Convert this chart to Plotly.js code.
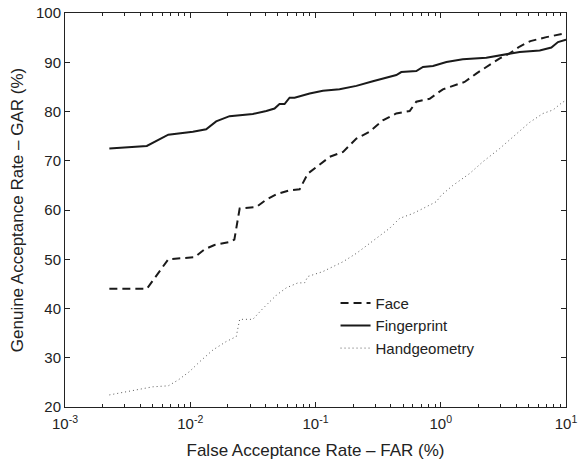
<!DOCTYPE html>
<html>
<head>
<meta charset="utf-8">
<script src="https://cdn.plot.ly/plotly-3.0.1.min.js"></script>
<style>html,body{margin:0;padding:0;background:#fff;}#chart{width:585px;height:462px;}</style>
</head>
<body>
<div id="chart"></div>
<script>
const faceX = [0.00226, 0.0045, 0.00668, 0.0108, 0.0130, 0.0156, 0.0206, 0.0225, 0.0248, 0.0337, 0.0405, 0.0487, 0.0621, 0.0747, 0.0869, 0.130, 0.166, 0.212, 0.270, 0.345, 0.441, 0.565, 0.638, 0.815, 1.04, 1.55, 1.92, 2.46, 2.96, 3.55, 4.27, 5.2, 6.97, 10];
const faceY = [44.0, 44.0, 50.0, 50.4, 52.0, 52.9, 53.5, 54.0, 60.3, 60.6, 62.1, 63.2, 64.0, 64.2, 67.4, 70.8, 71.8, 74.5, 75.9, 78.2, 79.6, 80.1, 82.0, 82.6, 84.5, 86.0, 87.7, 89.4, 90.8, 91.8, 93.2, 94.3, 95.1, 95.9];

const fingerX = [0.00226, 0.0045, 0.00668, 0.0105, 0.0134, 0.0161, 0.0206, 0.0248, 0.0316, 0.0405, 0.0471, 0.0516, 0.0566, 0.0621, 0.0681, 0.0898, 0.1146, 0.1556, 0.212, 0.287, 0.391, 0.442, 0.484, 0.638, 0.721, 0.867, 1.11, 1.50, 2.31, 3.34, 4.27, 6.17, 7.64, 8.63, 10];
const fingerY = [72.5, 73.0, 75.3, 75.9, 76.4, 78.0, 79.05, 79.25, 79.5, 80.1, 80.6, 81.5, 81.5, 82.8, 82.8, 83.65, 84.2, 84.5, 85.2, 86.15, 87.0, 87.4, 88.0, 88.2, 89.05, 89.25, 90.05, 90.6, 90.9, 91.6, 92.1, 92.4, 93.0, 94.1, 94.6];

const handX = [0.00226, 0.00394, 0.00502, 0.00668, 0.00803, 0.00987, 0.0119, 0.0152, 0.0194, 0.0233, 0.0248, 0.0316, 0.0380, 0.0487, 0.0585, 0.0723, 0.0818, 0.0869, 0.1146, 0.166, 0.212, 0.270, 0.391, 0.470, 0.600, 0.721, 0.922, 1.01, 1.25, 1.70, 2.17, 2.96, 4.02, 5.13, 6.55, 7.87, 9.18, 10];
const handY = [22.45, 23.6, 24.1, 24.3, 25.5, 27.2, 29.2, 31.6, 33.3, 34.3, 37.8, 37.8, 40.0, 42.7, 44.2, 45.2, 45.2, 46.5, 47.5, 49.5, 51.2, 53.2, 56.3, 58.3, 59.3, 60.3, 61.7, 63.0, 65.0, 67.4, 69.8, 72.5, 75.5, 77.8, 79.6, 80.3, 81.7, 82.3];

const seriesNames = ['Face', 'Fingerprint', 'Handgeometry'];
const xMajorTicks = [0.001, 0.01, 0.1, 1, 10];
const xTickLabels = ['10<sup>-3</sup>', '10<sup>-2</sup>', '10<sup>-1</sup>', '10<sup>0</sup>', '10<sup>1</sup>'];
const yTicks = [20, 30, 40, 50, 60, 70, 80, 90, 100];

const xMinorTicks = [];
xMajorTicks.slice(0, 4).forEach(d => { for (let k = 2; k <= 9; k++) xMinorTicks.push(d * k); });

const traces = [
  {x: faceX, y: faceY, name: seriesNames[0], mode: 'lines', line: {color: '#1a1a1a', width: 2, dash: '8px,5px'}},
  {x: fingerX, y: fingerY, name: seriesNames[1], mode: 'lines', line: {color: '#1a1a1a', width: 2}},
  {x: handX, y: handY, name: seriesNames[2], mode: 'lines', line: {color: '#5a5a5a', width: 1, dash: '1px,3px'}}
];

const fam = '"Liberation Sans", Arial, sans-serif';
const tickFont = {family: fam, size: 15, color: '#222'};
const titleFont = {family: fam, size: 17, color: '#222'};

const layout = {
  width: 585, height: 462,
  margin: {l: 65, r: 19, t: 13, b: 55},
  paper_bgcolor: '#fff', plot_bgcolor: '#fff',
  font: tickFont,
  showlegend: true,
  legend: {x: 0.540, y: 0.305, xanchor: 'left', yanchor: 'top', bgcolor: 'rgba(0,0,0,0)', borderwidth: 0, font: tickFont, tracegroupgap: 0},
  xaxis: {
    type: 'log', range: [-3, 1],
    tickmode: 'array', tickvals: xMajorTicks, ticktext: xTickLabels,
    ticks: 'inside', ticklen: 5, tickwidth: 1, tickcolor: '#222',
    ticklabelstandoff: 3,
    minor: {tickmode: 'array', tickvals: xMinorTicks, ticks: 'inside', ticklen: 3, tickwidth: 1, tickcolor: '#222', showgrid: false},
    showline: true, linecolor: '#222', linewidth: 1, mirror: 'allticks',
    showgrid: false, zeroline: false,
    title: {text: 'False Acceptance Rate – FAR (%)', font: titleFont, standoff: 13},
    tickfont: tickFont
  },
  yaxis: {
    range: [20, 100],
    tickmode: 'array', tickvals: yTicks,
    ticks: 'inside', ticklen: 5, tickwidth: 1, tickcolor: '#222',
    showline: true, linecolor: '#222', linewidth: 1, mirror: 'allticks',
    showgrid: false, zeroline: false,
    title: {text: 'Genuine Acceptance Rate – GAR (%)', font: titleFont, standoff: 8},
    tickfont: tickFont
  }
};

Plotly.newPlot('chart', traces, layout, {displayModeBar: false, staticPlot: true});
</script>
</body>
</html>
